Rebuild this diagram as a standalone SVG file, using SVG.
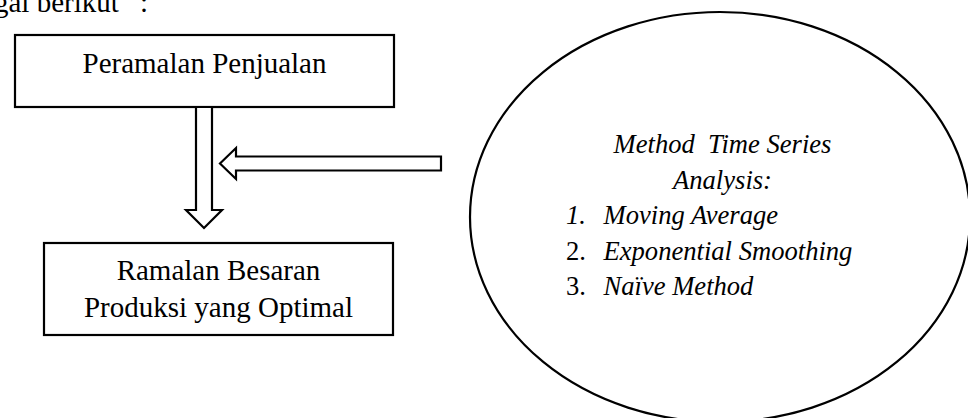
<svg xmlns="http://www.w3.org/2000/svg" width="968" height="418" viewBox="0 0 968 418">
  <style>
    .box { fill: #ffffff; stroke: #000000; stroke-width: 2.2; }
    .arrow { fill: #ffffff; stroke: #000000; stroke-width: 2.2; stroke-linejoin: miter; }
    .t { font-family: "Liberation Serif", "Times New Roman", serif; font-size: 29px; fill: #000000; }
    .ti { font-family: "Liberation Serif", "Times New Roman", serif; font-size: 26.6px; font-style: italic; fill: #000000; }
    .tn { font-family: "Liberation Serif", "Times New Roman", serif; font-size: 26.6px; fill: #000000; }
  </style>
  <rect x="0" y="0" width="968" height="418" fill="#ffffff"/>
  <text class="t" x="-6" y="12">gai berikut <tspan x="140">:</tspan></text>

  <g id="node-peramalan">
    <rect class="box" x="15" y="35" width="379" height="72"/>
    <text class="t" x="204.5" y="73" text-anchor="middle">Peramalan Penjualan</text>
  </g>

  <g id="node-ramalan">
    <rect class="box" x="44" y="243" width="349" height="92"/>
    <text class="t" x="218.5" y="280" text-anchor="middle">Ramalan Besaran</text>
    <text class="t" x="218.5" y="317" text-anchor="middle">Produksi yang Optimal</text>
  </g>

  <g id="node-method">
    <ellipse class="box" cx="720" cy="217" rx="250" ry="205"/>
    <text class="ti" x="722.5" y="153" text-anchor="middle" style="white-space:pre">Method  Time Series</text>
    <text class="ti" x="722.5" y="188.5" text-anchor="middle">Analysis:</text>
    <text class="ti" x="566" y="224">1.</text>
    <text class="ti" x="603.5" y="224">Moving Average</text>
    <text class="tn" x="566" y="259.5">2.</text>
    <text class="ti" x="603.5" y="259.5">Exponential Smoothing</text>
    <text class="tn" x="566" y="295">3.</text>
    <text class="ti" x="603.5" y="295">Naïve Method</text>
  </g>

  <g id="connectors">
    <polygon class="arrow" points="196,107 212,107 212,210 222,210 204,228 186,210 196,210"/>
    <polygon class="arrow" points="441,156.5 441,170.5 236,170.5 236,179 220,163.5 236,148 236,156.5"/>
  </g>
</svg>
